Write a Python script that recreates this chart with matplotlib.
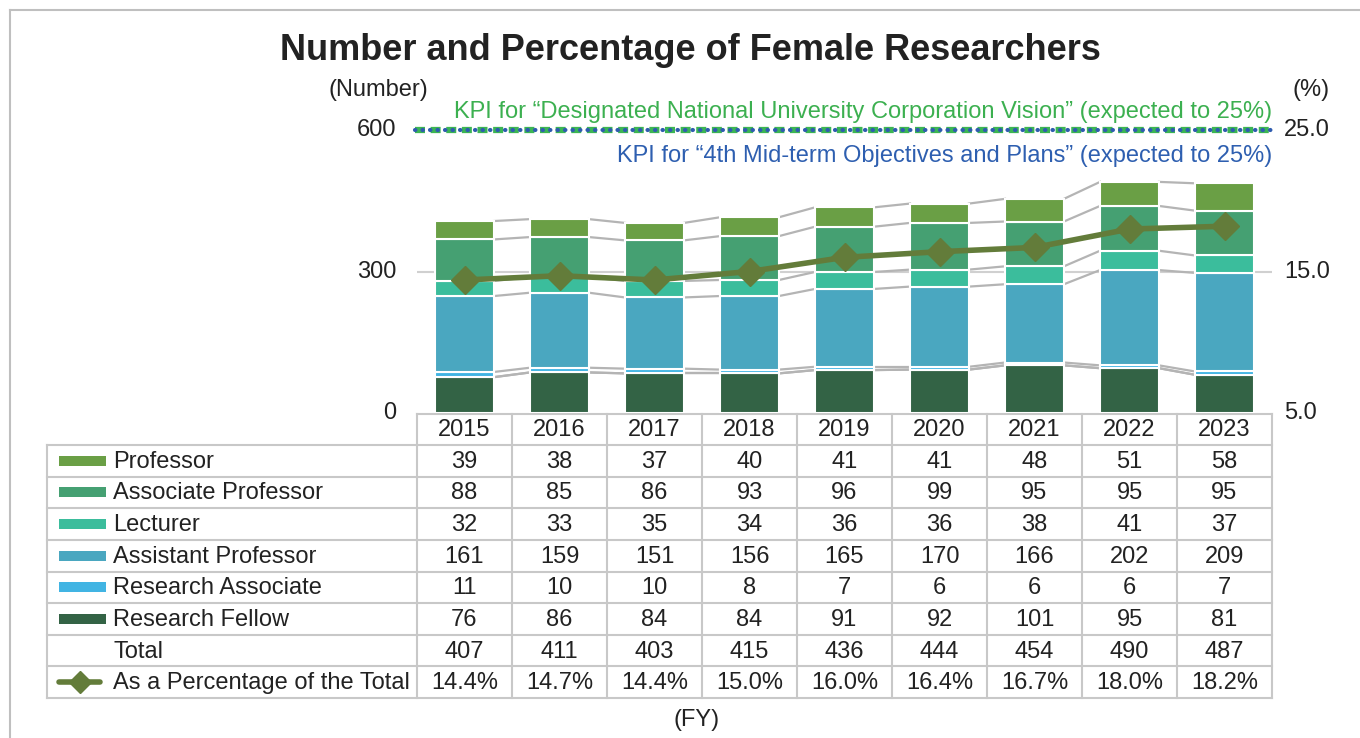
import matplotlib
matplotlib.use("Agg")
import matplotlib.pyplot as plt
from matplotlib.lines import Line2D
import numpy as np

plt.rcParams['font.family'] = ['Liberation Sans', 'DejaVu Sans']

# data
years = ['2015', '2016', '2017', '2018', '2019', '2020', '2021', '2022', '2023']
professor = [39, 38, 37, 40, 41, 41, 48, 51, 58]
assoc_professor = [88, 85, 86, 93, 96, 99, 95, 95, 95]
lecturer = [32, 33, 35, 34, 36, 36, 38, 41, 37]
assist_professor = [161, 159, 151, 156, 165, 170, 166, 202, 209]
research_associate = [11, 10, 10, 8, 7, 6, 6, 6, 7]
research_fellow = [76, 86, 84, 84, 91, 92, 101, 95, 81]
totals = [407, 411, 403, 415, 436, 444, 454, 490, 487]
percentage = [14.4, 14.7, 14.4, 15.0, 16.0, 16.4, 16.7, 18.0, 18.2]
kpi_target = 25.0

# bottom to top
stack_names = ['Research Fellow', 'Research Associate', 'Assistant Professor',
               'Lecturer', 'Associate Professor', 'Professor']
stack_values = [research_fellow, research_associate, assist_professor,
                lecturer, assoc_professor, professor]
stack_colors = ['#336345', '#41b4e3', '#4aa7c0', '#3bbd9c', '#45a072', '#6a9f45']

line_color = '#637c3a'
grid_color = '#c8c8c8'
text_color = '#222222'
W, H = 1360, 738

fig = plt.figure(figsize=(13.6, 7.38), dpi=100)

# pixel overlay for frame, table and labels
ov = fig.add_axes([0, 0, 1, 1])
ov.set_xlim(0, W)
ov.set_ylim(H, 0)
ov.axis('off')

# plot area
left_px, right_px, top_px, bot_px = 417, 1272, 130, 413
ax = fig.add_axes([left_px / W, 1 - bot_px / H, (right_px - left_px) / W, (bot_px - top_px) / H])
ax.set_xlim(-0.5, len(years) - 0.5)
ax.set_ylim(0, 600)
ax.axis('off')
ax.axhline(300, color='#d0d0d0', lw=1.5, zorder=0)

x = np.arange(len(years))
bw = 0.62
bottom = np.zeros(len(years))
for vals, col in zip(stack_values, stack_colors):
    vals = np.array(vals, dtype=float)
    ax.bar(x, vals, bw, bottom=bottom, color=col, edgecolor='white', linewidth=1.5, zorder=2)
    bottom = bottom + vals
    # series lines connecting segment tops
    for i in range(len(years) - 1):
        ax.plot([i + bw / 2, i + 1 - bw / 2], [bottom[i], bottom[i + 1]],
                color='#b4b4b4', lw=1.6, zorder=1)
# series lines for the base of the second segment
rf = np.array(research_fellow, dtype=float)
for i in range(len(years) - 1):
    ax.plot([i + bw / 2, i + 1 - bw / 2], [rf[i], rf[i + 1]], color='#b4b4b4', lw=1.6, zorder=1)

ax2 = ax.twinx()
ax2.set_ylim(5, 25)
ax2.axis('off')
ax2.plot(x, percentage, color=line_color, lw=4, marker='D', markersize=14, zorder=5)
ax2.plot([-0.52, len(years) - 0.48], [kpi_target, kpi_target], color='#3cb554', lw=4.5,
         linestyle=(0, (1.6, 0.9)), clip_on=False, zorder=6)
ax2.plot([-0.52, len(years) - 0.48], [kpi_target, kpi_target], color='#2f5caf', lw=3,
         linestyle=(0, (0.1, 1.7)), dash_capstyle='round', clip_on=False, zorder=7)

# tick labels
fs = 17
for v, lab in zip([0, 300, 600], ['0', '300', '600']):
    ov.text(396, bot_px - (bot_px - top_px) * v / 600, lab, ha='right', va='center', fontsize=fs, color=text_color)
for v, lab in zip([5, 15, 25], ['5.0', '15.0', '25.0']):
    ov.text(1284, bot_px - (bot_px - top_px) * (v - 5) / 20, lab, ha='left', va='center', fontsize=fs, color=text_color)
ov.text(378, 90, '(Number)', ha='center', va='center', fontsize=fs, color=text_color)
ov.text(1311, 90, '(%)', ha='center', va='center', fontsize=fs, color=text_color)

ov.text(1272, 112, 'KPI for \u201cDesignated National University Corporation Vision\u201d (expected to 25%)',
        ha='right', va='center', fontsize=fs, color='#3cb050')
ov.text(1272, 156, 'KPI for \u201c4th Mid-term Objectives and Plans\u201d (expected to 25%)',
        ha='right', va='center', fontsize=fs, color='#2e5fb0')

ov.text(690, 50, 'Number and Percentage of Female Researchers', ha='center', va='center',
        fontsize=26, fontweight='bold', color=text_color)
ov.text(697, 720, '(FY)', ha='center', va='center', fontsize=fs, color=text_color)

# outer frame
ov.plot([10, W], [10, 10], color='#bfbfbf', lw=1.5)
ov.plot([10, 10], [10, H], color='#bfbfbf', lw=1.5)

# data table
tab_left = 47
col_w = (right_px - left_px) / len(years)
row_h = (698 - 445) / 8
head_top = 414
rows_top = 445
n_rows = 8
tl = dict(color=grid_color, lw=1.5)
# header
ov.plot([left_px, right_px], [head_top, head_top], **tl)
for j in range(len(years) + 1):
    ov.plot([left_px + j * col_w] * 2, [head_top, rows_top + n_rows * row_h], **tl)
for r in range(n_rows + 1):
    ov.plot([tab_left, right_px], [rows_top + r * row_h] * 2, **tl)
ov.plot([tab_left, tab_left], [rows_top, rows_top + n_rows * row_h], **tl)
for j, yr in enumerate(years):
    ov.text(left_px + (j + 0.5) * col_w, (head_top + rows_top) / 2 + 1, yr, ha='center', va='center',
            fontsize=fs, color=text_color)

row_labels = list(reversed(stack_names)) + ['Total', 'As a Percentage of the Total']
row_values = list(reversed(stack_values)) + [totals, ['%.1f%%' % p for p in percentage]]
row_colors = list(reversed(stack_colors)) + [None, None]
for r, (lab, vals, col) in enumerate(zip(row_labels, row_values, row_colors)):
    yc = rows_top + (r + 0.5) * row_h
    ov.text(113, yc + 1, lab, ha='left', va='center', fontsize=fs, color=text_color)
    if col is not None:
        ov.add_patch(plt.Rectangle((59, yc - 5), 47, 10, color=col, lw=0))
    elif r == len(row_labels) - 1:
        ov.add_line(Line2D([59, 100], [yc, yc], color=line_color, lw=4, solid_capstyle='round'))
        ov.plot([79.5], [yc], marker='D', color=line_color, markersize=11)
    for j, v in enumerate(vals):
        ov.text(left_px + (j + 0.5) * col_w, yc + 1, str(v), ha='center', va='center',
                fontsize=fs, color=text_color)

fig.savefig('out.png', dpi=100)
